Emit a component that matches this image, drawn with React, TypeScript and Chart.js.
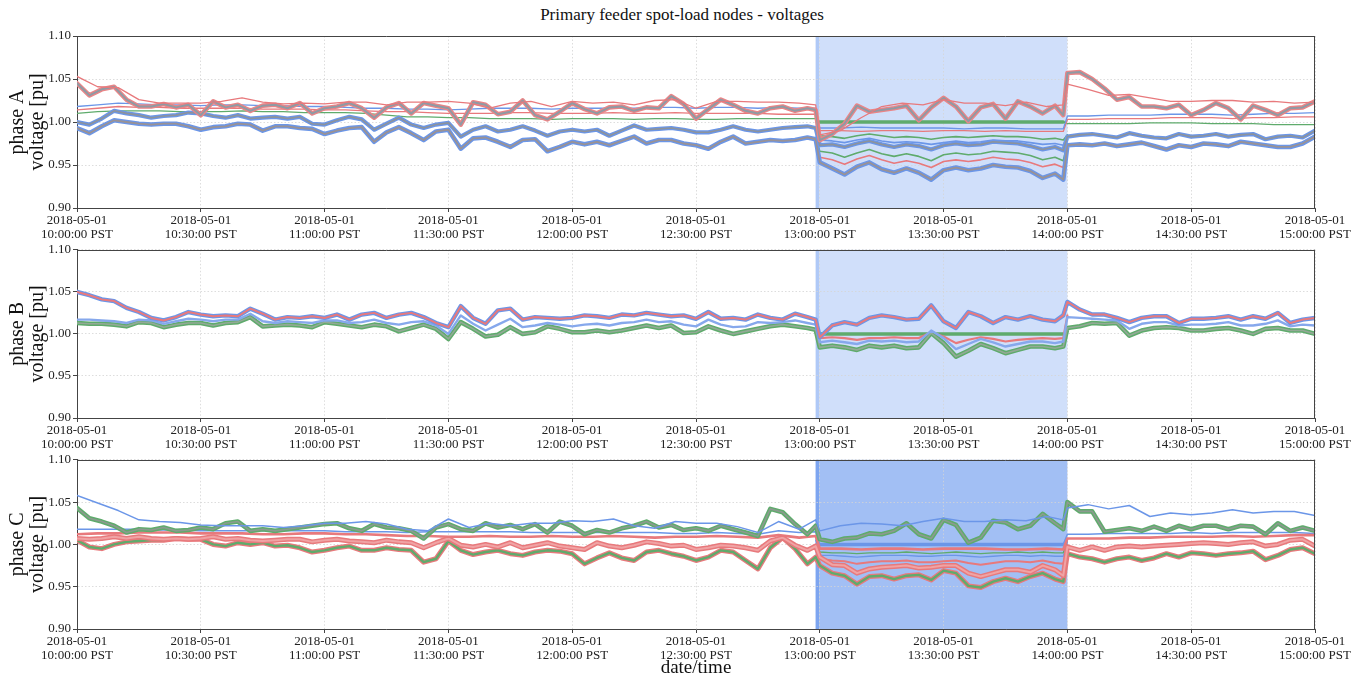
import React, { useEffect, useRef } from 'react';
import { Chart, registerables } from 'chart.js';

Chart.register(...registerables);

const FONT = '"Liberation Serif", "DejaVu Serif", "Times New Roman", serif';
const RED = '#e8797c';
const BLUE = '#6b96e8';
const GREEN = '#5fab6c';
const GRAY = '#8d939b';

// ---- time axes (minutes after 10:00 PST) ----
const T3 = [0,3,6,9,12,15,18,21,24,27, 30,33,36,39,42,45,48,51,54,57, 60,63,66,69,72,75,78,81,84,87,
  90,93,96,99,102,105,108,111,114,117, 120,123,126,129,132,135,138,141,144,147, 150,153,156,159,162,165,168,171,174,177,
  179,180,183,186,189,192,195,198,201,204, 207,210,213,216,219,222,225,228,231,234, 237,239,240,243,246,249,252,255,258,261,
  264,267,270,273,276,279,282,285,288,291, 294,297,300];
const T5 = [0,5,10,15,20,25,30,35,40,45, 50,55,60,65,70,75,80,85,90,95, 100,105,110,115,120,125,130,135,140,145,
  150,155,160,165,170,175, 179, 180,185,190,195,200,205,210,215,220,225,230,235, 239,
  240,245,250,255,260,265,270,275,280,285,290,295,300];
const TS = [179,180,183,186,189,192,195,198,201,204,207,210,213,216,219,222,225,228,231,234,237,239,240];
const FLAT_T = [180, 239];

const TICK_MIN = [0, 30, 60, 90, 120, 150, 180, 210, 240, 270, 300];
const TICK_DATE = '2018-05-01';
const TICK_TIME = ['10:00:00 PST','10:30:00 PST','11:00:00 PST','11:30:00 PST','12:00:00 PST','12:30:00 PST',
  '13:00:00 PST','13:30:00 PST','14:00:00 PST','14:30:00 PST','15:00:00 PST'];
const Y_TICKS = [0.9, 0.95, 1.0, 1.05, 1.1];
const Y_LABELS = ['0.90', '0.95', '1.00', '1.05', '1.10'];
const SHADE_FROM = 179;
const SHADE_EDGE = 179.8;
const SHADE_TO = 240;

// ---- phase A ----
const A_TOP = [1.045,1.031,1.038,1.041,1.026,1.018,1.018,1.021,1.017,1.020,
  1.008,1.024,1.017,1.020,1.013,1.019,1.020,1.016,1.022,1.010,
  1.016,1.018,1.022,1.016,1.005,1.017,1.022,1.010,1.022,1.019,
  1.016,0.997,1.023,1.020,1.009,1.012,1.025,1.008,1.003,1.012,
  1.022,1.015,1.010,1.017,1.018,1.013,1.017,1.016,1.030,1.021,
  1.004,1.015,1.026,1.020,1.013,1.010,1.016,1.018,1.013,1.016,
  1.014,0.979,0.986,0.998,1.019,1.012,1.014,1.016,1.019,1.002,
  1.017,1.028,1.018,1.001,1.017,1.021,1.004,1.024,1.018,1.010,
  1.019,1.008,1.057,1.058,1.050,1.039,1.026,1.029,1.018,1.018,
  1.016,1.020,1.008,1.014,1.022,1.016,1.003,1.019,1.014,1.008,
  1.016,1.017,1.024];
const A_MID = [1.000,0.997,1.004,1.013,1.010,1.008,1.005,1.007,1.008,1.011,
  1.010,1.007,1.005,1.008,1.004,1.005,1.006,1.004,1.006,0.998,
  0.997,1.002,1.006,1.003,0.991,0.998,1.005,0.997,0.993,0.997,
  0.999,0.983,0.991,0.995,0.989,0.991,0.995,0.990,0.984,0.989,
  0.991,0.989,0.991,0.984,0.990,0.996,0.991,0.992,0.993,0.991,
  0.988,0.988,0.991,0.995,0.991,0.989,0.991,0.993,0.994,0.995,
  0.993,0.973,0.974,0.971,0.975,0.978,0.974,0.971,0.974,0.972,
  0.968,0.973,0.975,0.973,0.974,0.977,0.976,0.975,0.972,0.968,
  0.971,0.967,0.983,0.985,0.986,0.984,0.982,0.987,0.984,0.982,
  0.981,0.986,0.983,0.984,0.986,0.983,0.985,0.986,0.980,0.983,
  0.984,0.982,0.990];
const A_LOW = [0.993,0.987,0.995,1.002,1.000,0.998,0.997,0.998,0.998,0.995,
  0.991,0.994,0.995,0.998,0.997,0.990,0.995,0.995,0.993,0.992,
  0.986,0.990,0.993,0.994,0.977,0.988,0.994,0.987,0.979,0.989,
  0.991,0.969,0.981,0.982,0.977,0.971,0.979,0.980,0.966,0.971,
  0.977,0.974,0.977,0.973,0.978,0.983,0.975,0.979,0.979,0.975,
  0.973,0.969,0.977,0.983,0.975,0.977,0.979,0.978,0.979,0.982,
  0.980,0.953,0.946,0.939,0.948,0.953,0.945,0.941,0.946,0.941,
  0.933,0.944,0.947,0.944,0.946,0.950,0.948,0.947,0.943,0.935,
  0.940,0.933,0.973,0.974,0.973,0.975,0.972,0.974,0.976,0.972,
  0.968,0.973,0.971,0.975,0.974,0.972,0.977,0.975,0.973,0.971,
  0.971,0.975,0.983];
const A_BLUE_THIN = [1.018,1.020,1.022,1.021,1.020,1.020,1.019,1.020,1.020,1.019,
  1.019,1.018,1.018,1.017,1.016,1.016,1.015,1.015,1.014,1.015,
  1.016,1.016,1.016,1.015,1.016,1.016,1.016,1.016,1.017,1.017,
  1.016,1.017,1.017,1.016,1.017,1.016, 1.016,
  0.993,0.993,0.994,0.993,0.993,0.993,0.993,0.992,0.993,0.993,0.992,0.992, 0.992,
  1.007,1.007,1.008,1.008,1.008,1.009,1.009,1.009,1.008,1.009,1.010,1.010,1.011];
const A_RED_THIN = [1.014,1.016,1.018,1.017,1.017,1.016,1.016,1.016,1.016,1.015,
  1.015,1.015,1.014,1.014,1.013,1.012,1.012,1.011,1.010,1.010,
  1.010,1.011,1.011,1.010,1.010,1.010,1.011,1.010,1.010,1.011,
  1.010,1.010,1.010,1.010,1.009,1.009, 1.009,
  0.990,0.990,0.989,0.990,0.990,0.989,0.990,0.990,0.989,0.990,0.989,0.989, 0.989,
  1.003,1.003,1.004,1.004,1.004,1.005,1.005,1.005,1.004,1.005,1.005,1.006,1.006];
const A_GREEN_THIN = [1.010,1.012,1.013,1.013,1.013,1.012,1.012,1.012,1.013,1.012,
  1.012,1.011,1.011,1.011,1.010,1.008,1.006,1.006,1.005,1.005,
  1.004,1.004,1.004,1.003,1.004,1.004,1.004,1.003,1.004,1.004,
  1.003,1.003,1.004,1.004,1.004,1.004, 1.004,
  1.000,1.000,1.000,1.000,1.000,1.000,1.000,1.000,1.000,1.000,1.000,1.000, 1.000,
  0.998,0.998,0.998,0.998,0.999,0.999,0.999,0.998,0.998,0.998,0.997,0.997,0.997];
const A_RED_HI = [1.053,1.041,1.040,1.026,1.022,1.022,1.022,1.024,1.028,1.023,
  1.021,1.022,1.021,1.023,1.023,1.020,1.023,1.023,1.024,1.022,
  1.016,1.022,1.024,1.018,1.024,1.022,1.023,1.020,1.025,1.026,
  1.016,1.024,1.024,1.023,1.023,1.022, 1.020,
  0.985,0.990,1.005,1.018,1.022,1.020,1.026,1.022,1.022,1.019,1.023,1.018, 1.020,
  1.044,1.038,1.031,1.032,1.028,1.024,1.024,1.025,1.025,1.023,1.024,1.022,1.023];
const A_FLAT = [1.000, 1.000];
const A_S_GREEN1 = [0.993,0.984,0.983,0.981,0.984,0.986,0.984,0.982,0.983,0.982,0.980,0.982,0.983,0.982,0.983,0.984,0.983,0.983,0.982,0.980,0.981,0.979,0.985];
const A_S_BLUE = [0.993,0.979,0.978,0.976,0.979,0.981,0.978,0.976,0.977,0.976,0.974,0.976,0.978,0.976,0.977,0.979,0.978,0.978,0.976,0.974,0.975,0.973,0.985];
const A_S_GREEN2 = [0.982,0.966,0.964,0.959,0.964,0.968,0.963,0.960,0.963,0.960,0.955,0.962,0.964,0.962,0.963,0.966,0.965,0.964,0.961,0.956,0.959,0.955,0.975];
const A_S_RED = [0.980,0.959,0.956,0.951,0.957,0.961,0.956,0.952,0.955,0.952,0.947,0.954,0.956,0.954,0.956,0.959,0.957,0.956,0.953,0.948,0.951,0.947,0.973];

// ---- phase B ----
const B_TOP = [1.050,1.046,1.041,1.039,1.031,1.026,1.019,1.016,1.020,1.026,
  1.023,1.021,1.022,1.021,1.030,1.024,1.017,1.020,1.019,1.021,
  1.019,1.023,1.017,1.023,1.025,1.019,1.023,1.025,1.020,1.013,
  1.008,1.033,1.019,1.012,1.028,1.030,1.017,1.020,1.019,1.018,
  1.019,1.022,1.021,1.019,1.023,1.022,1.025,1.023,1.021,1.022,
  1.018,1.026,1.018,1.019,1.017,1.023,1.019,1.017,1.024,1.020,
  1.017,0.996,1.010,1.014,1.011,1.019,1.022,1.020,1.017,1.018,
  1.034,1.015,1.007,1.026,1.021,1.013,1.020,1.017,1.021,1.017,
  1.015,1.022,1.038,1.029,1.023,1.023,1.019,1.014,1.019,1.021,
  1.021,1.013,1.018,1.018,1.019,1.021,1.017,1.021,1.018,1.025,
  1.013,1.017,1.019];
const B_MID = [1.017,1.017,1.016,1.015,1.013,1.017,1.016,1.012,1.015,1.018,
  1.017,1.015,1.017,1.017,1.024,1.015,1.013,1.015,1.014,1.013,
  1.016,1.016,1.013,1.014,1.017,1.013,1.011,1.014,1.015,1.010,
  1.000,1.022,1.012,1.004,1.011,1.018,1.008,1.010,1.013,1.011,
  1.009,1.011,1.012,1.010,1.013,1.014,1.017,1.014,1.015,1.011,
  1.009,1.017,1.011,1.008,1.009,1.014,1.013,1.014,1.016,1.013,
  1.011,0.990,0.992,0.990,0.988,0.992,0.991,0.992,0.990,0.991,
  1.004,0.995,0.982,0.988,0.994,0.990,0.985,0.988,0.991,0.991,
  0.989,0.991,1.020,1.019,1.018,1.017,1.016,1.006,1.012,1.014,
  1.014,1.010,1.011,1.011,1.012,1.014,1.010,1.010,1.012,1.016,
  1.009,1.011,1.010];
const B_LOW = [1.013,1.012,1.012,1.011,1.009,1.014,1.013,1.008,1.011,1.013,
  1.013,1.010,1.013,1.014,1.020,1.009,1.010,1.011,1.010,1.008,
  1.014,1.012,1.010,1.008,1.011,1.009,1.003,1.007,1.011,1.006,
  0.994,1.014,1.006,0.997,0.999,1.008,1.000,1.002,1.009,1.006,
  1.002,1.002,1.004,1.002,1.004,1.007,1.010,1.007,1.010,1.001,
  1.002,1.009,1.004,1.000,1.003,1.006,1.009,1.011,1.009,1.007,
  1.005,0.984,0.986,0.984,0.981,0.986,0.984,0.986,0.983,0.984,
  1.001,0.989,0.973,0.980,0.988,0.983,0.977,0.981,0.985,0.985,
  0.983,0.985,1.007,1.009,1.013,1.012,1.013,0.998,1.004,1.007,
  1.008,1.007,1.004,1.004,1.006,1.007,1.004,1.000,1.006,1.007,
  1.004,1.004,1.000];
const B_S_RED = [1.015,0.995,0.996,0.995,0.993,0.995,0.995,0.996,0.995,0.995,1.002,0.997,0.989,0.993,0.996,0.994,0.991,0.993,0.994,0.995,0.994,0.995,1.022];
const B_FLAT = [1.000, 1.000];

// ---- phase C ----
const C_TOP = [1.043,1.031,1.027,1.022,1.014,1.018,1.017,1.020,1.016,1.017,
  1.020,1.018,1.025,1.027,1.016,1.018,1.016,1.018,1.020,1.022,
  1.024,1.025,1.019,1.016,1.024,1.020,1.019,1.016,1.007,1.020,
  1.024,1.018,1.016,1.025,1.020,1.023,1.018,1.024,1.014,1.027,
  1.022,1.012,1.017,1.014,1.019,1.022,1.027,1.020,1.023,1.017,
  1.019,1.016,1.022,1.018,1.014,1.010,1.042,1.038,1.024,1.012,
  1.022,1.006,1.003,1.007,1.008,1.013,1.012,1.016,1.025,1.012,
  1.007,1.029,1.023,1.002,1.008,1.028,1.026,1.018,1.022,1.036,
  1.025,1.018,1.050,1.039,1.039,1.015,1.017,1.019,1.016,1.021,
  1.016,1.022,1.018,1.022,1.022,1.018,1.022,1.021,1.012,1.025,
  1.016,1.020,1.016];
const C_RED2 = [1.007,1.006,1.007,1.009,1.007,1.009,1.007,1.006,1.007,1.006,
  1.007,1.009,1.006,1.007,1.005,1.004,1.005,1.006,1.006,1.003,
  1.005,1.006,1.004,1.003,1.002,1.005,1.003,1.002,0.996,1.002,
  1.007,0.999,0.997,1.000,0.997,1.002,0.996,0.999,1.002,0.998,
  0.996,0.994,1.002,0.998,0.996,0.999,1.003,1.001,0.998,0.999,
  0.994,0.996,0.999,0.998,0.996,0.993,1.004,1.008,0.999,0.993,
  0.998,0.985,0.976,0.975,0.966,0.971,0.973,0.974,0.975,0.972,
  0.973,0.975,0.975,0.966,0.962,0.966,0.970,0.970,0.967,0.975,
  0.970,0.963,0.997,0.993,0.997,0.993,0.997,0.998,0.997,0.998,
  0.999,1.000,1.001,1.002,1.001,1.000,1.002,1.003,0.998,1.000,
  1.005,1.006,0.998];
const C_LOW = [1.005,0.997,0.995,1.000,1.003,1.004,1.005,1.005,1.007,1.006,
  1.006,1.000,0.998,1.002,1.000,1.002,0.998,0.999,0.996,0.991,
  0.993,0.996,0.998,0.993,0.993,0.996,0.994,0.993,0.979,0.983,
  1.004,0.993,0.988,0.991,0.993,0.989,0.987,0.991,0.993,0.992,
  0.989,0.977,0.984,0.990,0.984,0.981,0.991,0.993,0.989,0.986,
  0.981,0.985,0.993,0.991,0.981,0.971,0.996,1.008,0.995,0.977,
  0.985,0.975,0.966,0.963,0.953,0.962,0.963,0.959,0.963,0.964,
  0.958,0.969,0.966,0.951,0.949,0.956,0.960,0.956,0.962,0.966,
  0.959,0.956,0.989,0.985,0.983,0.979,0.983,0.985,0.981,0.984,
  0.989,0.985,0.990,0.989,0.987,0.989,0.990,0.992,0.982,0.987,
  0.994,0.996,0.989];
const C_BLUE_HI = [1.058,1.049,1.040,1.029,1.027,1.026,1.023,1.022,1.022,1.022,
  1.020,1.022,1.025,1.025,1.027,1.024,1.018,1.016,1.030,1.020,
  1.025,1.022,1.025,1.025,1.028,1.027,1.030,1.022,1.019,1.027,
  1.025,1.025,1.021,1.014,1.027,1.018, 1.029,
  1.016,1.022,1.025,1.024,1.022,1.027,1.031,1.027,1.027,1.029,1.028,1.033, 1.029,
  1.043,1.047,1.042,1.046,1.033,1.037,1.035,1.037,1.041,1.037,1.039,1.039,1.034];
const C_BLUE_MID = [1.018,1.018,1.018,1.018,1.017,1.017,1.016,1.016,1.016,1.016,
  1.016,1.016,1.016,1.015,1.015,1.015,1.014,1.015,1.015,1.015,
  1.015,1.015,1.014,1.014,1.014,1.014,1.014,1.014,1.014,1.013,
  1.013,1.014,1.013,1.012,1.016,1.014, 1.015,
  1.000,1.000,1.000,1.000,1.000,1.000,1.000,1.000,1.000,1.000,1.000,1.000, 1.000,
  1.012,1.012,1.013,1.013,1.013,1.013,1.014,1.013,1.014,1.014,1.014,1.014,1.013];
const C_RED1 = [1.012,1.013,1.013,1.014,1.014,1.014,1.013,1.013,1.013,1.012,
  1.012,1.013,1.013,1.012,1.012,1.011,1.010,1.010,1.009,1.009,
  1.010,1.009,1.009,1.010,1.009,1.009,1.010,1.009,1.008,1.009,
  1.009,1.010,1.009,1.008,1.011,1.008, 1.010,
  0.995,0.995,0.994,0.995,0.995,0.994,0.995,0.995,0.995,0.994,0.994,0.995, 0.994,
  1.007,1.007,1.007,1.008,1.008,1.009,1.009,1.009,1.010,1.009,1.010,1.011,1.011];
const C_FLAT = [1.000, 1.000];
const C_S_GREEN = [1.010,0.991,0.990,0.990,0.989,0.990,0.990,0.990,0.991,0.990,0.989,0.990,0.991,0.990,0.989,0.990,0.990,0.991,0.990,0.991,0.990,0.990,1.006];
const C_S_BLUE = [1.005,0.987,0.987,0.986,0.985,0.986,0.987,0.987,0.987,0.986,0.986,0.987,0.987,0.986,0.985,0.986,0.987,0.987,0.986,0.987,0.986,0.986,1.003];
const C_S_RED = [1.000,0.983,0.981,0.980,0.977,0.979,0.980,0.980,0.981,0.979,0.979,0.980,0.981,0.978,0.976,0.978,0.980,0.980,0.979,0.981,0.978,0.977,1.000];

type Line = { t: number[]; v: number[]; c: string; w: number };
const L = (t: number[], v: number[], c: string, w: number): Line => ({ t, v, c, w });

const PANELS = [
  {
    top: 0, height: 245, padTop: 36, xh: 37, phase: 'phase A', shade: 'rgba(100,149,237,0.30)',
    lines: [
      L(T5, A_GREEN_THIN, GREEN, 1.3), L(T5, A_RED_THIN, RED, 1.3), L(T5, A_BLUE_THIN, BLUE, 1.3),
      L(FLAT_T, A_FLAT, GREEN, 3.5),
      L(TS, A_S_RED, RED, 1.6), L(TS, A_S_GREEN2, GREEN, 1.6), L(TS, A_S_BLUE, BLUE, 1.6), L(TS, A_S_GREEN1, GREEN, 1.6),
      L(T3, A_LOW, BLUE, 4.6), L(T3, A_LOW, '#9a9294', 1.8),
      L(T3, A_MID, BLUE, 4.2), L(T3, A_MID, GRAY, 1.6),
      L(T3, A_TOP, '#ea8587', 4.6), L(T3, A_TOP, '#8f9aa4', 2.0),
      L(T5, A_RED_HI, RED, 1.3),
    ],
  },
  {
    top: 240, height: 215, padTop: 7, xh: 37, phase: 'phase B', shade: 'rgba(100,149,237,0.30)',
    lines: [
      L(FLAT_T, B_FLAT, GREEN, 3.5),
      L(TS, B_S_RED, RED, 2.2),
      L(T3, B_LOW, GREEN, 4.6), L(T3, B_LOW, '#93a996', 1.6),
      L(T3, B_MID, '#86a8ec', 2.4),
      L(T3, B_TOP, BLUE, 4.4), L(T3, B_TOP, RED, 2.0),
    ],
  },
  {
    top: 450, height: 219, padTop: 7, xh: 40, phase: 'phase C', shade: 'rgba(100,149,237,0.60)',
    lines: [
      L(T5, C_BLUE_MID, BLUE, 1.5), L(FLAT_T, C_FLAT, BLUE, 3.5),
      L(TS, C_S_RED, RED, 2.0), L(TS, C_S_BLUE, BLUE, 1.3), L(TS, C_S_GREEN, GREEN, 1.3),
      L(T3, C_LOW, RED, 5.0), L(T3, C_LOW, GREEN, 2.4),
      L(T3, C_RED2, RED, 5.0), L(T3, C_RED2, '#f0a3a4', 2.0),
      L(T5, C_RED1, RED, 2.6),
      L(T3, C_TOP, GREEN, 4.6), L(T3, C_TOP, '#8c9a8f', 1.6),
      L(T5, C_BLUE_HI, BLUE, 1.5),
    ],
  },
];

const decoPlugin = {
  id: 'deco',
  beforeDraw(chart: any, _a: any, o: any) {
    const { ctx, chartArea: a, scales } = chart;
    const x = scales.x;
    const x0 = x.getPixelForValue(o.from);
    const x1 = x.getPixelForValue(o.to);
    const xe = x.getPixelForValue(o.edge);
    ctx.save();
    ctx.fillStyle = o.fill;
    ctx.fillRect(x0, a.top, x1 - x0, a.bottom - a.top);
    ctx.fillRect(x0, a.top, xe - x0, a.bottom - a.top);
    ctx.restore();
  },
  afterDraw(chart: any) {
    const { ctx, chartArea: a } = chart;
    ctx.save();
    ctx.strokeStyle = '#444';
    ctx.lineWidth = 1;
    ctx.beginPath();
    ctx.moveTo(a.left, Math.round(a.top) + 0.5);
    ctx.lineTo(a.right, Math.round(a.top) + 0.5);
    ctx.moveTo(Math.round(a.right) - 0.5, a.top);
    ctx.lineTo(Math.round(a.right) - 0.5, a.bottom);
    ctx.stroke();
    ctx.restore();
  },
};

function config(p: any) {
  const n = p.lines.length;
  return {
    type: 'line',
    data: {
      datasets: p.lines.map((l: Line, i: number) => ({
        data: l.v.map((y, k) => ({ x: l.t[k], y })),
        borderColor: l.c,
        borderWidth: l.w,
        pointRadius: 0,
        tension: 0,
        fill: false,
        borderJoinStyle: 'round',
        borderCapStyle: 'round',
        order: n - i,
      })),
    },
    options: {
      animation: false,
      responsive: false,
      events: [],
      layout: { padding: { top: p.padTop, right: 49, left: 0, bottom: 0 } },
      plugins: {
        legend: { display: false },
        tooltip: { enabled: false },
        deco: { from: SHADE_FROM, to: SHADE_TO, edge: SHADE_EDGE, fill: p.shade },
      },
      scales: {
        x: {
          type: 'linear', min: 0, max: 300,
          afterBuildTicks: (s: any) => { s.ticks = TICK_MIN.map((v) => ({ value: v })); },
          afterFit: (s: any) => { s.height = p.xh; },
          ticks: {
            autoSkip: false, maxRotation: 0, minRotation: 0, padding: 2, color: '#222',
            font: { family: FONT, size: 13, lineHeight: 1.05 },
            callback: (_v: any, i: number) => [TICK_DATE, TICK_TIME[i]],
          },
          grid: { color: '#d4d4d4', lineWidth: 0.8, tickLength: 4, tickColor: '#444', tickWidth: 1, tickBorderDash: [] },
          border: { display: true, color: '#444', width: 1, dash: [1.5, 2] },
        },
        y: {
          type: 'linear', min: 0.9, max: 1.1,
          afterBuildTicks: (s: any) => { s.ticks = Y_TICKS.map((v) => ({ value: v })); },
          afterFit: (s: any) => { s.width = 77; },
          ticks: {
            padding: 2, color: '#222', font: { family: FONT, size: 13 },
            callback: (_v: any, i: number) => Y_LABELS[i],
          },
          title: {
            display: true, text: [p.phase, 'voltage [pu]'], color: '#111',
            font: { family: FONT, size: 20, lineHeight: 1.0 }, padding: { top: 8, bottom: 0 },
          },
          grid: { color: '#d4d4d4', lineWidth: 0.8, tickLength: 4, tickColor: '#444', tickWidth: 1, tickBorderDash: [] },
          border: { display: true, color: '#444', width: 1, dash: [1.5, 2] },
        },
      },
    },
    plugins: [decoPlugin],
  };
}

export default function App() {
  const r0 = useRef<HTMLCanvasElement>(null);
  const r1 = useRef<HTMLCanvasElement>(null);
  const r2 = useRef<HTMLCanvasElement>(null);
  const refs = [r0, r1, r2];
  useEffect(() => {
    const charts = PANELS.map((p, i) => new Chart(refs[i].current as HTMLCanvasElement, config(p) as any));
    return () => charts.forEach((c) => c.destroy());
  }, []);
  return (
    <div style={{ position: 'fixed', left: 0, top: 0, width: 1364, height: 682, background: '#fff', overflow: 'hidden', fontFamily: FONT, color: '#111' }}>
      <div style={{ position: 'absolute', left: 0, top: 5, width: 1364, textAlign: 'center', fontSize: 17, lineHeight: '20px' }}>
        Primary feeder spot-load nodes - voltages
      </div>
      {PANELS.map((p, i) => (
        <canvas key={i} ref={refs[i]} width={1364} height={p.height} style={{ position: 'absolute', left: 0, top: p.top }} />
      ))}
      <div style={{ position: 'absolute', left: 77, top: 656, width: 1238, textAlign: 'center', fontSize: 19, lineHeight: '22px' }}>
        date/time
      </div>
    </div>
  );
}
